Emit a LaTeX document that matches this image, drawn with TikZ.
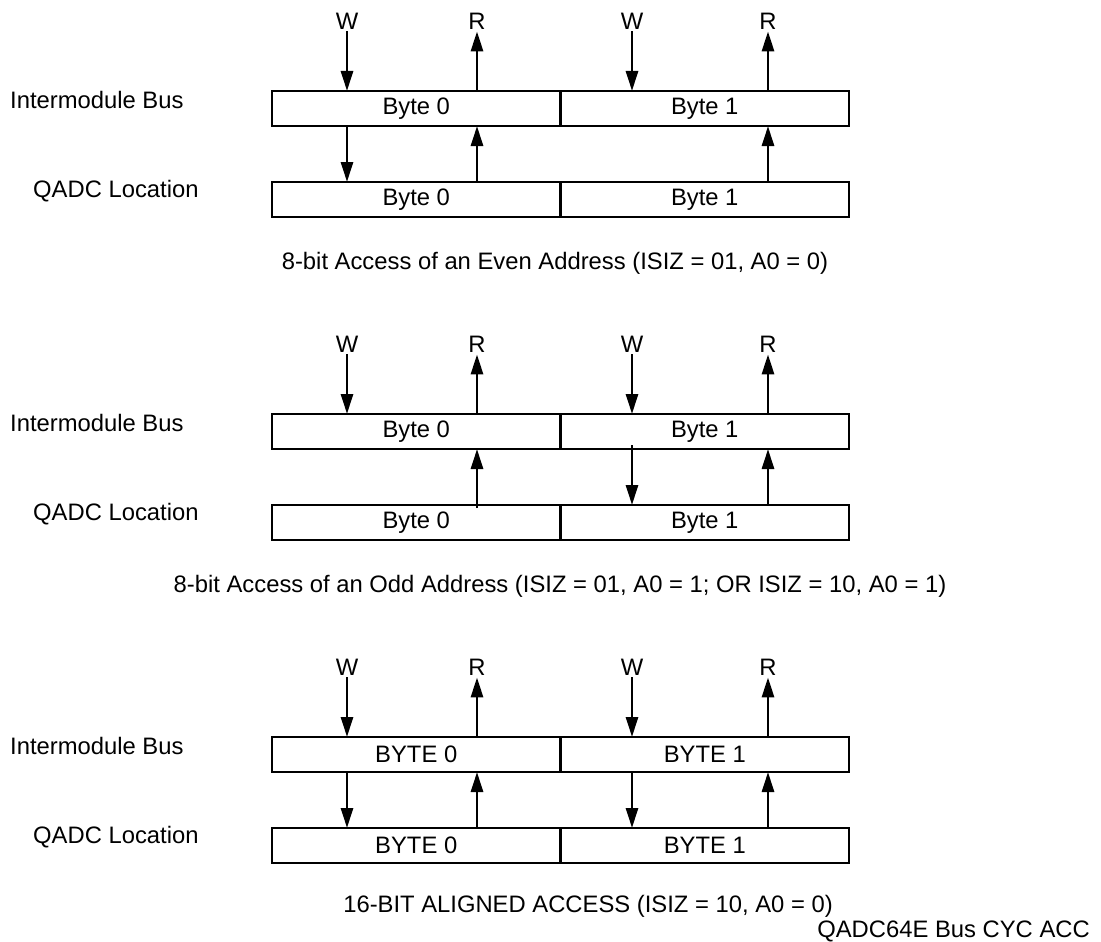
\documentclass[tikz,border=0pt]{standalone}
\usepackage{fontspec}
\setmainfont{Liberation Sans}
\usetikzlibrary{arrows.meta}
\begin{document}
\begin{tikzpicture}[x=1pt,y=-1pt,font=\fontsize{23.8}{28}\selectfont]
\tikzset{cell/.style={draw,line width=2.7pt,minimum width=288.5pt,minimum height=35pt,inner sep=0pt,outer sep=0pt},
 arr/.style={line width=2.8pt,-{Triangle[length=20pt,width=12pt]}},
 lbl/.style={inner sep=0pt,anchor=west},
 rw/.style={inner sep=2pt}}
\useasboundingbox (0,0) rectangle (1101,942);
\foreach \s/\T/\bb in {1/91/Byte,2/414/Byte,3/737/BYTE}{
 \node[lbl] (bus\s) at (10,\T+9) {Intermodule Bus};
 \node[lbl] (loc\s) at (33,\T+100) {QADC Location};
 \node[cell] (busA\s) at (416.25,\T+17.5) {\bb\ 0};
 \node[cell] (busB\s) at (704.75,\T+17.5) {\bb\ 1};
 \node[cell] (locA\s) at (416.25,\T+108.5) {\bb\ 0};
 \node[cell] (locB\s) at (704.75,\T+108.5) {\bb\ 1};
 \node[rw] (wA\s) at (347,\T-70) {W};
 \node[rw] (rA\s) at (477,\T-70) {R};
 \node[rw] (wB\s) at (632,\T-70) {W};
 \node[rw] (rB\s) at (768,\T-70) {R};
 \draw[arr] (wA\s) -- (wA\s |- busA\s.north);
 \draw[arr] (rA\s |- busA\s.north) -- (rA\s);
 \draw[arr] (wB\s) -- (wB\s |- busB\s.north);
 \draw[arr] (rB\s |- busB\s.north) -- (rB\s);
}
% even address
\draw[arr] (wA1 |- busA1.south) -- (wA1 |- locA1.north);
\draw[arr] (rA1 |- locA1.north) -- (rA1 |- busA1.south);
\draw[arr] (rB1 |- locB1.north) -- (rB1 |- busB1.south);
% odd address
\draw[arr] ([yshift=-3pt]rA2 |- locA2.north) -- (rA2 |- busA2.south);
\draw[arr] ([yshift=4pt]wB2 |- busB2.south) -- (wB2 |- locB2.north);
\draw[arr] (rB2 |- locB2.north) -- (rB2 |- busB2.south);
% aligned
\draw[arr] (wA3 |- busA3.south) -- (wA3 |- locA3.north);
\draw[arr] (rA3 |- locA3.north) -- (rA3 |- busA3.south);
\draw[arr] (wB3 |- busB3.south) -- (wB3 |- locB3.north);
\draw[arr] (rB3 |- locB3.north) -- (rB3 |- busB3.south);
\node (cap1) at (555,263) {8-bit Access of an Even Address (ISIZ = 01, A0 = 0)};
\node (cap2) at (560,586) {8-bit Access of an Odd Address (ISIZ = 01, A0 = 1; OR ISIZ = 10, A0 = 1)};
\node (cap3) at (588,906) {16-BIT ALIGNED ACCESS (ISIZ = 10, A0 = 0)};
\node[anchor=east,inner sep=0pt] (fig) at (1090,931) {QADC64E Bus CYC ACC};
\end{tikzpicture}
\end{document}
